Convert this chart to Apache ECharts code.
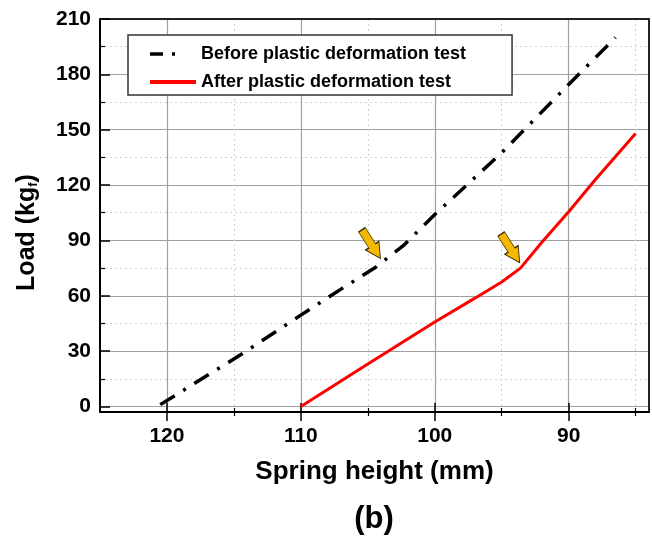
<!DOCTYPE html>
<html>
<head>
<meta charset="utf-8">
<script src="https://cdn.jsdelivr.net/npm/echarts@6/dist/echarts.min.js"></script>
<style>
  html, body { margin: 0; padding: 0; background: #fff; }
  #chart { width: 652px; height: 537px; }
</style>
</head>
<body>
<div id="chart"></div>
<script>
// values (spring height in mm, load in kgf)
const beforeHeight = [120.5, 114.5, 110, 107, 104.5, 102.3, 100, 95, 90, 86.5]
const beforeLoad = [1, 28, 49.5, 63.6, 75, 87.5, 104, 137.5, 174.5, 200]
const afterHeight = [110, 105, 100, 97, 95, 93.6, 92, 90, 88, 85]
const afterLoad = [0, 23, 45.8, 58.7, 67.5, 75, 89, 105.5, 123, 148]

const xMajorTicks = [120, 110, 100, 90]
const xMinorTicks = [115, 105, 95, 85]
const yMajorTicks = [0, 30, 60, 90, 120, 150, 180, 210]
const yMinorTicks = [15, 45, 75, 105, 135, 165, 195]

// arrow marks (centre of each arrow, in data units)
const arrowBefore = [104.75, 88]
const arrowAfter = [94.35, 85.7]

const seriesNames = ['Before plastic deformation test', 'After plastic deformation test']

const font = '"Liberation Sans", Arial, sans-serif'
const arrowPath = 'path://M4,0 L12,0 L12,19 L16,19 L8,34 L0,19 L4,19 Z'

const myChart = echarts.init(document.getElementById('chart'), null, {renderer: 'canvas'})

const toPairs = (xs, ys) => xs.map((x, i) => [x, ys[i]])

const xRange = {type: 'value', min: 84, max: 125, inverse: true, gridIndex: 0}
const yRange = {type: 'value', min: -3, max: 210, gridIndex: 0}

const arrowMark = (coord) => ({
    silent: true,
    symbol: arrowPath,
    symbolSize: [16, 34],
    symbolRotate: 33,
    itemStyle: {color: '#F5B700', borderColor: '#3a3000', borderWidth: 1},
    label: {show: false},
    data: [{coord}]
})

const xAxis = [
    {
        ...xRange,
        position: 'bottom',
        name: 'Spring height (mm)',
        nameLocation: 'middle',
        nameGap: 47,
        nameTextStyle: {fontFamily: font, fontWeight: 'bold', fontSize: 26, color: '#000'},
        axisLine: {show: true, onZero: false, lineStyle: {color: '#000', width: 2}},
        axisTick: {show: true, customValues: xMajorTicks, length: 9, lineStyle: {color: '#000', width: 1.5}},
        axisLabel: {customValues: xMajorTicks, margin: 14, fontFamily: font, fontWeight: 'bold', fontSize: 21, color: '#000'},
        splitLine: {show: true, lineStyle: {color: '#a0a0a0', width: 1.2}}
    },
    {
        ...xRange,
        position: 'bottom',
        axisLine: {show: false, onZero: false},
        axisTick: {show: true, inside: true, customValues: xMajorTicks, length: 9, lineStyle: {color: '#000', width: 1.5}},
        axisLabel: {show: false},
        splitLine: {show: false}
    },
    {
        ...xRange,
        position: 'bottom',
        axisLine: {show: false, onZero: false},
        axisTick: {show: true, inside: true, customValues: xMinorTicks, length: 4, lineStyle: {color: '#000', width: 1.2}},
        axisLabel: {show: false},
        splitLine: {show: true, lineStyle: {color: '#d2d2d2', width: 1, type: [2, 3]}}
    },
    {
        ...xRange,
        position: 'bottom',
        axisLine: {show: false, onZero: false},
        axisTick: {show: true, customValues: xMinorTicks, length: 4, lineStyle: {color: '#000', width: 1.2}},
        axisLabel: {show: false},
        splitLine: {show: false}
    },
    {
        // top frame
        ...xRange,
        position: 'top',
        axisLine: {show: true, onZero: false, lineStyle: {color: '#222', width: 2}},
        axisTick: {show: false},
        axisLabel: {show: false},
        splitLine: {show: false}
    }
]

const yAxis = [
    {
        ...yRange,
        position: 'left',
        name: 'Load (kg{sub|f})',
        nameLocation: 'middle',
        nameGap: 60,
        nameRotate: 90,
        nameTextStyle: {
            fontFamily: font, fontWeight: 'bold', fontSize: 25, color: '#000',
            padding: [0, 34, 0, 0],
            rich: {
                sub: {fontFamily: font, fontWeight: 'bold', fontSize: 13, color: '#000', verticalAlign: 'bottom', padding: [10, 0, 0, 0]}
            }
        },
        axisLine: {show: true, onZero: false, lineStyle: {color: '#000', width: 2}},
        axisTick: {show: true, inside: true, customValues: yMajorTicks, length: 10, lineStyle: {color: '#000', width: 1.5}},
        axisLabel: {customValues: yMajorTicks, margin: 9, fontFamily: font, fontWeight: 'bold', fontSize: 21, color: '#000'},
        splitLine: {show: true, lineStyle: {color: '#a0a0a0', width: 1.2}}
    },
    {
        ...yRange,
        position: 'left',
        axisLine: {show: false, onZero: false},
        axisTick: {show: true, inside: true, customValues: yMinorTicks, length: 5, lineStyle: {color: '#000', width: 1.2}},
        axisLabel: {show: false},
        splitLine: {show: true, lineStyle: {color: '#d2d2d2', width: 1, type: [2, 3]}}
    },
    {
        // right frame
        ...yRange,
        position: 'right',
        axisLine: {show: true, onZero: false, lineStyle: {color: '#222', width: 2}},
        axisTick: {show: false},
        axisLabel: {show: false},
        splitLine: {show: false}
    }
]

const legend = {
    orient: 'vertical',
    left: 128,
    top: 35,
    data: [
        {name: seriesNames[0], lineStyle: {type: [13, 9, 3, 40], width: 3.5}},
        {name: seriesNames[1], lineStyle: {width: 4}}
    ],
    selectedMode: false,
    itemWidth: 46,
    itemHeight: 14,
    itemGap: 8,
    itemStyle: {opacity: 0, borderWidth: 0},
    padding: [9, 46, 3, 20],
    backgroundColor: '#fff',
    borderColor: '#333',
    borderWidth: 1.5,
    borderRadius: 0,
    textStyle: {fontFamily: font, fontWeight: 'bold', fontSize: 18, color: '#000', lineHeight: 20}
}

const option = {
    animation: false,
    backgroundColor: '#fff',
    title: {
        text: '(b)',
        left: 369,
        top: 499,
        textAlign: 'center',
        textStyle: {fontFamily: font, fontWeight: 'bold', fontSize: 31, color: '#000'}
    },
    grid: {left: 100, right: 3, top: 19, bottom: 125, containLabel: false},
    legend,
    xAxis,
    yAxis,
    series: [
        {
            name: seriesNames[0],
            type: 'line',
            data: toPairs(beforeHeight, beforeLoad),
            showSymbol: false,
            symbol: 'none',
            color: '#000',
            lineStyle: {color: '#000', width: 3.5, type: [17, 10, 3, 10], cap: 'butt'},
            markPoint: arrowMark(arrowBefore),
            z: 3
        },
        {
            name: seriesNames[1],
            type: 'line',
            data: toPairs(afterHeight, afterLoad),
            showSymbol: false,
            symbol: 'none',
            color: '#ff0000',
            lineStyle: {color: '#ff0000', width: 3},
            markPoint: arrowMark(arrowAfter),
            z: 3
        }
    ]
}

myChart.setOption(option)
</script>
</body>
</html>
